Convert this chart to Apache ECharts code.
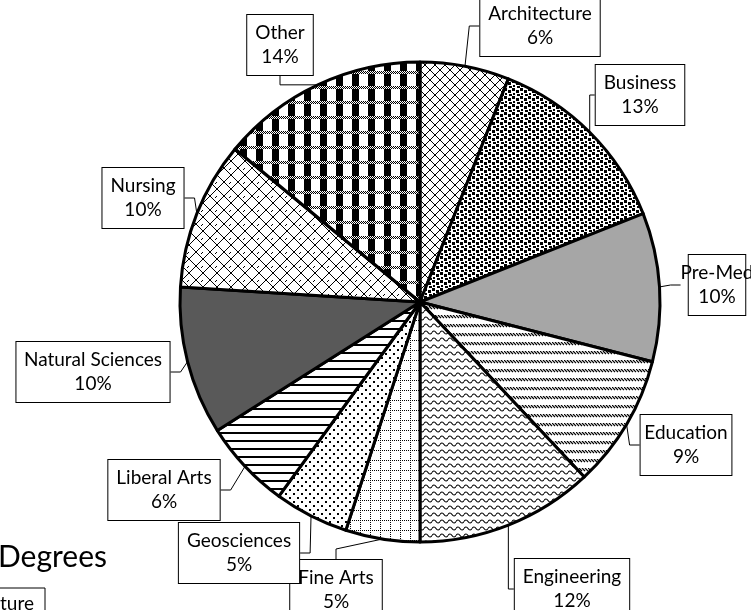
<!DOCTYPE html>
<html>
<head>
<meta charset="utf-8">
<script src="https://cdn.jsdelivr.net/npm/echarts@6/dist/echarts.min.js"></script>
<style>
  html, body { margin: 0; padding: 0; background: #fff; }
  #chart { width: 751px; height: 610px; }
</style>
</head>
<body>
<div id="chart"></div>
<script>
// majors, clockwise from 12 o'clock
const categories = ['Architecture', 'Business', 'Pre-Med', 'Education', 'Engineering',
  'Fine Arts', 'Geosciences', 'Liberal Arts', 'Natural Sciences', 'Nursing', 'Other'];
const shares = [6, 13, 10, 9, 12, 5, 5, 6, 10, 10, 14];

// where each callout box sits (centre)
const calloutPos = {
  'Architecture': [540, 26],
  'Business': [640, 95],
  'Pre-Med': [717, 285],
  'Education': [686, 445],
  'Engineering': [572, 589],
  'Fine Arts': [336, 590],
  'Geosciences': [239, 553],
  'Liberal Arts': [164, 490],
  'Natural Sciences': [93, 372],
  'Nursing': [143, 198],
  'Other': [280, 45]
};

function tile(w, h, draw) {
  const c = document.createElement('canvas');
  c.width = w; c.height = h;
  const ctx = c.getContext('2d');
  ctx.fillStyle = '#fff';
  ctx.fillRect(0, 0, w, h);
  ctx.fillStyle = '#000';
  ctx.strokeStyle = '#000';
  draw(ctx);
  return { image: c, repeat: 'repeat' };
}

const fills = {
  'Architecture': tile(10, 10, ctx => {
    ctx.lineWidth = 1;
    ctx.beginPath();
    ctx.moveTo(0, 0); ctx.lineTo(10, 10);
    ctx.moveTo(10, 0); ctx.lineTo(0, 10);
    ctx.stroke();
  }),
  'Business': tile(8, 8, ctx => {
    ctx.fillRect(0, 0, 3, 3);
    ctx.fillRect(4, 2, 3, 3);
    ctx.fillRect(1, 5, 2, 2);
    ctx.fillRect(5, 6, 3, 2);
  }),
  'Pre-Med': '#a6a6a6',
  'Education': tile(12, 9, ctx => {
    ctx.lineWidth = 1.2;
    for (let x = -3; x < 12; x += 3) {
      ctx.beginPath();
      ctx.moveTo(x, 0); ctx.lineTo(x + 3, 3);
      ctx.stroke();
    }
  }),
  'Engineering': tile(8, 7, ctx => {
    ctx.lineWidth = 1.2;
    ctx.beginPath();
    ctx.moveTo(0, 3.5);
    ctx.quadraticCurveTo(2, 0.5, 4, 3.5);
    ctx.quadraticCurveTo(6, 6.5, 8, 3.5);
    ctx.stroke();
  }),
  'Fine Arts': tile(10, 10, ctx => {
    for (let i = 0; i < 10; i += 2) {
      ctx.fillRect(i, 0, 1, 1);
      ctx.fillRect(0, i, 1, 1);
    }
  }),
  'Geosciences': tile(8, 8, ctx => {
    ctx.fillRect(1, 1, 2, 2);
    ctx.fillRect(5, 5, 2, 2);
  }),
  'Liberal Arts': tile(8, 8, ctx => {
    ctx.fillRect(0, 0, 8, 2);
  }),
  'Natural Sciences': '#595959',
  'Nursing': tile(14, 14, ctx => {
    ctx.lineWidth = 1;
    ctx.beginPath();
    ctx.moveTo(0, 0); ctx.lineTo(14, 14);
    ctx.moveTo(14, 0); ctx.lineTo(0, 14);
    ctx.moveTo(7, 0); ctx.lineTo(5, 2);
    ctx.stroke();
  }),
  'Other': tile(16, 15, ctx => {
    ctx.fillRect(0, 0, 7, 15);
    ctx.fillStyle = '#fff';
    ctx.fillRect(0, 11, 16, 3);
    ctx.fillStyle = '#000';
    for (let y = 11; y < 14; y++) {
      for (let x = 0; x < 16; x++) {
        if ((x + y) % 2 === 0) ctx.fillRect(x, y, 1, 1);
      }
    }
  })
};

const chart = echarts.init(document.getElementById('chart'), null, { renderer: 'canvas' });

const option = {
  animation: false,
  backgroundColor: '#fff',
  title: {
    text: 'Degrees',
    left: -2,
    top: 542,
    padding: 0,
    textStyle: { fontFamily: 'Lato', fontSize: 30, fontWeight: 'normal', color: '#000' }
  },
  graphic: [
    {
      type: 'rect',
      shape: { x: -5, y: 588, width: 50, height: 40 },
      style: { fill: '#fff', stroke: '#000', lineWidth: 1 }
    },
    {
      type: 'text',
      left: 0,
      top: 594,
      style: { text: 'ture', fontFamily: 'Lato', fontSize: 19, fill: '#000' }
    }
  ],
  series: [{
    type: 'pie',
    center: [420, 302],
    radius: 240,
    startAngle: 90,
    clockwise: true,
    data: categories.map((name, i) => ({
      name: name,
      value: shares[i],
      itemStyle: { color: fills[name] }
    })),
    itemStyle: {
      borderColor: '#000',
      borderWidth: 3
    },
    label: {
      show: true,
      formatter: '{b}\n{c}%',
      fontFamily: 'Lato',
      fontSize: 19,
      lineHeight: 24,
      color: '#000',
      align: 'center',
      overflow: 'none',
      backgroundColor: '#fff',
      borderColor: '#000',
      borderWidth: 1,
      padding: [6, 8]
    },
    labelLine: {
      show: true,
      length: 10,
      length2: 10,
      lineStyle: { color: '#000', width: 1 }
    },
    labelLayout: function (params) {
      const p = calloutPos[categories[params.dataIndex]];
      return { x: p[0], y: p[1], align: 'center', verticalAlign: 'middle' };
    },
    emphasis: { disabled: true }
  }]
};

chart.setOption(option);
</script>
</body>
</html>
